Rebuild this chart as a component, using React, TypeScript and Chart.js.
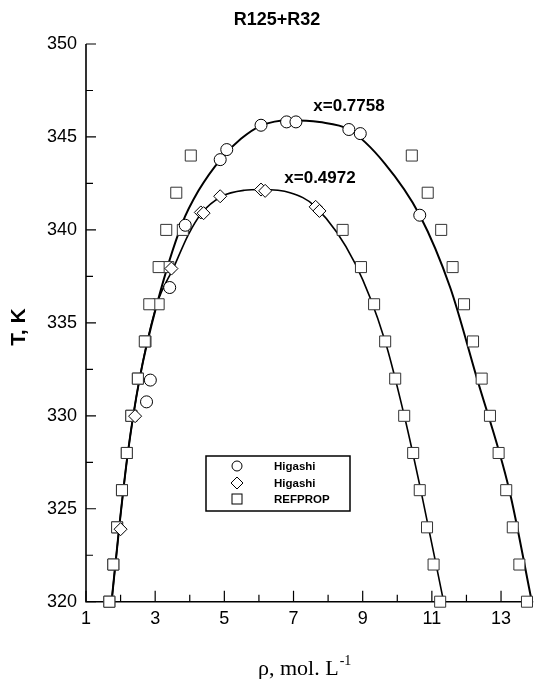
import React, { useEffect, useRef } from "react";
import { Chart, registerables } from "chart.js";

Chart.register(...registerables);

// ---- Text ----
const TITLE = "R125+R32";
const Y_TITLE = "T, K";
const X_TITLE = "ρ, mol. L";
const X_TITLE_SUP = "-1";
const LABEL_HIGH = "x=0.7758";
const LABEL_LOW = "x=0.4972";
const LEGEND_LABELS = ["Higashi", "Higashi", "REFPROP"];

// ---- Axes ----
const X_MIN = 1;
const X_MAX = 13.93;
const Y_MIN = 320;
const Y_MAX = 350;
const xMajorTicks = [1, 3, 5, 7, 9, 11, 13];
const xMinorTicks = [2, 4, 6, 8, 10, 12];
const yMajorTicks = [320, 325, 330, 335, 340, 345, 350];
const yMinorTicks = [322.5, 327.5, 332.5, 337.5, 342.5, 347.5];

// ---- Higashi, x=0.7758 (circles) ----
const higashiHighRho = [2.75, 2.86, 3.42, 3.87, 4.88, 5.07, 6.06, 6.80, 7.07, 8.60, 8.93, 10.65];
const higashiHighT = [330.75, 331.92, 336.9, 340.25, 343.78, 344.32, 345.63, 345.81, 345.81, 345.4, 345.18, 340.79];

// ---- Higashi, x=0.4972 (diamonds) ----
const higashiLowRho = [2.0, 2.42, 3.47, 4.32, 4.4, 4.88, 6.06, 6.18, 7.64, 7.75];
const higashiLowT = [323.9, 329.98, 337.92, 340.94, 340.9, 341.81, 342.17, 342.1, 341.24, 341.02];

// ---- REFPROP, x=0.7758 (squares) ----
const refHighRho = [1.675, 1.79, 1.9, 2.04, 2.18, 2.31, 2.5, 2.7, 2.83, 3.1, 3.32, 3.61, 4.03,
  10.42, 10.88, 11.27, 11.6, 11.93, 12.19, 12.44, 12.68, 12.93, 13.15, 13.34, 13.53, 13.75];
const refHighT = [320, 322, 324, 326, 328, 330, 332, 334, 336, 338, 340, 342, 344,
  344, 342, 340, 338, 336, 334, 332, 330, 328, 326, 324, 322, 320];

// ---- REFPROP, x=0.4972 (squares) ----
const refLowRho = [1.675, 1.79, 1.9, 2.04, 2.18, 2.31, 2.5, 2.72, 3.1, 3.38, 3.8,
  8.42, 8.95, 9.33, 9.65, 9.94, 10.2, 10.46, 10.65, 10.86, 11.05, 11.24];
const refLowT = [320, 322, 324, 326, 328, 330, 332, 334, 336, 338, 340,
  340, 338, 336, 334, 332, 330, 328, 326, 324, 322, 320];

// ---- Fitted curve, x=0.7758 ----
const curveHighRho = [1.74, 1.96, 2.21, 2.55, 3.05, 3.77, 4.25, 4.91, 5.48, 6.05, 6.9, 7.75,
  8.6, 9.64, 10.65, 11.53, 12.29, 13.24, 13.89];
const curveHighT = [320, 324, 328, 332, 336, 340.3, 342.1, 343.84, 344.9, 345.6, 345.9, 345.8,
  345.4, 343.57, 340.79, 336.9, 332.1, 326, 320];

// ---- Fitted curve, x=0.4972 ----
const curveLowRho = [1.74, 1.96, 2.21, 2.55, 3.05, 3.54, 3.96, 4.34, 4.92, 5.58, 6.06, 6.9,
  7.64, 8.78, 9.64, 10.21, 10.68, 11.34];
const curveLowT = [320, 324, 328, 332, 336, 338, 339.75, 340.9, 341.8, 342.13, 342.17, 342.0,
  341.24, 338.2, 334.07, 329.95, 326, 320];

const zip = (xs: number[], ys: number[]) => xs.map((v, i) => ({ x: v, y: ys[i] }));

const SANS = "'Liberation Sans', Arial, sans-serif";
const SERIF = "'Liberation Serif', 'Times New Roman', serif";

const axesPlugin = {
  id: "axesDecor",
  beforeDatasetsDraw(chart: any) {
    const { ctx, chartArea: a, scales } = chart;
    const xs = scales.x, ys = scales.y;
    ctx.save();
    ctx.strokeStyle = "#000";
    ctx.lineWidth = 1.6;
    ctx.beginPath();
    ctx.moveTo(a.left, ys.getPixelForValue(Y_MAX));
    ctx.lineTo(a.left, a.bottom);
    ctx.lineTo(a.right, a.bottom);
    ctx.stroke();
    ctx.lineWidth = 1.2;
    ctx.beginPath();
    for (const t of xMajorTicks) { const p = xs.getPixelForValue(t); ctx.moveTo(p, a.bottom); ctx.lineTo(p, a.bottom - 11); }
    for (const t of xMinorTicks) { const p = xs.getPixelForValue(t); ctx.moveTo(p, a.bottom); ctx.lineTo(p, a.bottom - 7); }
    for (const t of yMajorTicks) { const p = ys.getPixelForValue(t); ctx.moveTo(a.left, p); ctx.lineTo(a.left + 10, p); }
    for (const t of yMinorTicks) { const p = ys.getPixelForValue(t); ctx.moveTo(a.left, p); ctx.lineTo(a.left + 7, p); }
    ctx.stroke();
    ctx.restore();
  },
  afterDraw(chart: any) {
    const { ctx } = chart;
    ctx.save();
    ctx.fillStyle = "#000";
    // title
    ctx.font = `bold 18px ${SANS}`;
    ctx.textAlign = "center";
    ctx.textBaseline = "middle";
    ctx.fillText(TITLE, 277, 20);
    // y title
    ctx.save();
    ctx.translate(19, 327);
    ctx.rotate(-Math.PI / 2);
    ctx.font = `bold 21px ${SANS}`;
    ctx.fillText(Y_TITLE, 0, 0);
    ctx.restore();
    // x title
    ctx.textAlign = "left";
    ctx.textBaseline = "alphabetic";
    ctx.font = `22px ${SERIF}`;
    ctx.fillText(X_TITLE, 258, 675);
    const w = ctx.measureText(X_TITLE).width;
    ctx.font = `14px ${SERIF}`;
    ctx.fillText(X_TITLE_SUP, 258 + w + 1, 665);
    // curve labels
    ctx.font = `bold 17px ${SANS}`;
    ctx.textAlign = "center";
    ctx.textBaseline = "middle";
    ctx.fillText(LABEL_HIGH, 349, 106);
    ctx.fillText(LABEL_LOW, 320, 178);
    // legend
    ctx.strokeStyle = "#000";
    ctx.lineWidth = 1.5;
    ctx.fillStyle = "#fff";
    ctx.fillRect(206, 456, 144, 55);
    ctx.strokeRect(206, 456, 144, 55);
    const sx = 237;
    const rows = [466, 483, 499];
    ctx.lineWidth = 1;
    ctx.strokeStyle = "#000";
    ctx.beginPath();
    ctx.arc(sx, rows[0], 5, 0, Math.PI * 2);
    ctx.stroke();
    ctx.beginPath();
    ctx.moveTo(sx, rows[1] - 6);
    ctx.lineTo(sx + 6, rows[1]);
    ctx.lineTo(sx, rows[1] + 6);
    ctx.lineTo(sx - 6, rows[1]);
    ctx.closePath();
    ctx.stroke();
    ctx.strokeRect(sx - 5, rows[2] - 5, 10, 10);
    ctx.fillStyle = "#000";
    ctx.font = `bold 11.5px ${SANS}`;
    ctx.textAlign = "left";
    ctx.textBaseline = "middle";
    LEGEND_LABELS.forEach((l, i) => ctx.fillText(l, 274, rows[i] + 1));
    ctx.restore();
  },
};

export default function App() {
  const ref = useRef<HTMLCanvasElement | null>(null);
  useEffect(() => {
    if (!ref.current) return;
    const squareStyle = {
      pointStyle: "rect",
      pointRadius: 7.8,
      pointBorderWidth: 1,
      pointBorderColor: "#333",
      pointBackgroundColor: "#fff",
      showLine: false,
      clip: false as any,
      order: 2,
    };
    const chart = new Chart(ref.current, {
      type: "scatter",
      data: {
        datasets: [
          {
            label: "curve x=0.7758",
            data: zip(curveHighRho, curveHighT),
            showLine: true,
            borderColor: "#000",
            borderWidth: 2,
            pointRadius: 0,
            cubicInterpolationMode: "monotone",
            clip: false as any,
            order: 3,
          },
          {
            label: "curve x=0.4972",
            data: zip(curveLowRho, curveLowT),
            showLine: true,
            borderColor: "#000",
            borderWidth: 1.6,
            pointRadius: 0,
            cubicInterpolationMode: "monotone",
            clip: false as any,
            order: 3,
          },
          { label: "REFPROP", data: zip(refHighRho, refHighT), ...squareStyle } as any,
          { label: "REFPROP ", data: zip(refLowRho, refLowT), ...squareStyle } as any,
          {
            label: "Higashi",
            data: zip(higashiHighRho, higashiHighT),
            pointStyle: "circle",
            pointRadius: 6,
            pointBorderWidth: 1,
            pointBorderColor: "#000",
            pointBackgroundColor: "#fff",
            showLine: false,
            clip: false as any,
            order: 1,
          },
          {
            label: "Higashi ",
            data: zip(higashiLowRho, higashiLowT),
            pointStyle: "rectRot",
            pointRadius: 6.5,
            pointBorderWidth: 1,
            pointBorderColor: "#000",
            pointBackgroundColor: "#fff",
            showLine: false,
            clip: false as any,
            order: 1,
          },
        ],
      },
      options: {
        responsive: false,
        animation: false,
        layout: { padding: { top: 44, right: 0, left: 0, bottom: 0 } },
        plugins: { legend: { display: false }, tooltip: { enabled: false }, title: { display: false } },
        scales: {
          x: {
            type: "linear",
            min: X_MIN,
            max: X_MAX,
            grid: { display: false, drawTicks: false },
            border: { display: false },
            afterBuildTicks: (s: any) => { s.ticks = xMajorTicks.map((v) => ({ value: v })); },
            afterFit: (s: any) => { s.height = 77.3; },
            ticks: {
              padding: 7,
              color: "#000",
              font: { family: SANS, size: 18 },
              maxRotation: 0,
              autoSkip: false,
            },
          },
          y: {
            type: "linear",
            min: Y_MIN,
            max: Y_MAX,
            grid: { display: false, drawTicks: false },
            border: { display: false },
            afterBuildTicks: (s: any) => { s.ticks = yMajorTicks.map((v) => ({ value: v })); },
            afterFit: (s: any) => { s.width = 86; },
            ticks: {
              padding: 9,
              color: "#000",
              font: { family: SANS, size: 18 },
              autoSkip: false,
            },
          },
        },
      },
      plugins: [axesPlugin],
    } as any);
    return () => chart.destroy();
  }, []);
  return (
    <div style={{ position: "absolute", left: 0, top: 0, width: 542, height: 679, background: "#fff" }}>
      <canvas ref={ref} width={542} height={679} />
    </div>
  );
}
